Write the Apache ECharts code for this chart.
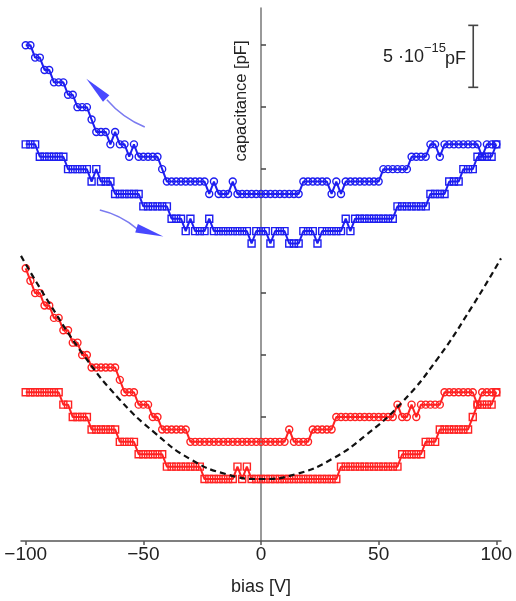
<!DOCTYPE html>
<html>
<head>
<meta charset="utf-8">
<script src="https://cdn.jsdelivr.net/npm/echarts@6/dist/echarts.min.js"></script>
<style>html,body{margin:0;background:#fff}#main{width:516px;height:601px}</style>
</head>
<body>
<div id="main"></div>
<script>
// bias sweep, volts
var bias = [-100,-98,-96,-94,-92,-90,-88,-86,-84,-82,-80,-78,-76,-74,-72,-70,-68,-66,-64,-62,
  -60,-58,-56,-54,-52,-50,-48,-46,-44,-42,-40,-38,-36,-34,-32,-30,-28,-26,-24,-22,
  -20,-18,-16,-14,-12,-10,-8,-6,-4,-2,0,2,4,6,8,10,12,14,16,18,
  20,22,24,26,28,30,32,34,36,38,40,42,44,46,48,50,52,54,56,58,
  60,62,64,66,68,70,72,74,76,78,80,82,84,86,88,90,92,94,96,98,100];

// capacitance, in 10^-15 pF steps
var blueCircles = [40,40,39,39,38,38,37,37,37,36,36,35,35,35,34,33,33,33,
  32,33,32,32,31,32,31,31,31,31,31,30,
  29,29,29,29,29,29,29,29,29,
  28,29,28,28,28,29,
  28,28,28,28,28,28,28,28,28,28,28,28,28,28,
  29,29,29,29,29,29,28,29,28,
  29,29,29,29,29,29,29,29,
  30,30,30,30,30,30,31,31,31,31,32,32,31,
  32,32,32,32,32,32,32,32,31,32,32,32];
var blueSquares = [32,32,32,31,31,31,31,31,31,30,30,30,30,30,29,30,29,29,29,
  28,28,28,28,28,28,27,27,27,27,27,27,26,26,26,25,26,25,25,25,26,
  25,25,25,25,25,25,25,25,24,25,25,25,24,25,25,25,24,24,24,25,25,25,24,
  25,25,25,25,25,26,25,26,26,26,26,26,26,26,26,26,
  27,27,27,27,27,27,27,28,28,28,28,29,29,29,30,30,30,31,31,31,31,32];
var redCircles = [22,21,20,20,19,19,18,18,17,17,16,16,15,15,
  14,14,14,14,14,14,13,12,12,12,11,11,11,10,10,9,9,9,9,9,9,
  8,8,8,8,8,8,8,8,8,8,8,8,8,8,8,8,8,8,8,8,8,
  9,8,8,8,8,9,9,9,9,9,
  10,10,10,10,10,10,10,10,10,10,10,10,10,
  11,10,10,11,10,11,11,11,11,11,
  12,12,12,12,12,12,12,11,12,12,12,12];
var redSquares = [12,12,12,12,12,12,12,12,11,11,10,10,10,10,9,9,9,9,9,9,
  8,8,8,8,7,7,7,7,7,7,6,6,6,6,6,6,6,6,5,5,5,5,5,5,5,6,5,6,
  5,5,5,5,5,5,5,5,5,5,5,5,5,5,5,5,5,5,5,
  6,6,6,6,6,6,6,6,6,6,6,6,6,7,7,7,7,7,8,8,8,
  9,9,9,9,9,9,9,10,11,11,11,11,12];

// dashed parabola
var fitBias = [-102,-90,-75,-60,-45,-30,-15,0,15,30,45,60,75,90,102];
var fitCap = [23.0,19.2,14.9,11.4,8.7,6.6,5.4,5.0,5.4,6.6,8.6,11.2,14.7,19.0,22.8];

// sweep arrows (shaft tail -> shaft end, head centre)
var arrowUpShaft = [[-49.4,33.4],[-65.5,35.6]];
var arrowUpHead = [-70.0,36.5];
var arrowDownShaft = [[-68.5,26.7],[-52.8,25.2]];
var arrowDownHead = [-47.2,24.9];

// 5 x 10^-15 pF scale bar
var scaleBarBias = [90.2,90.2];
var scaleBarCap = [36.6,41.6];

var xTicks = [-100,-50,0,50,100];
var yTicks = [5,10,15,20,25,30,35,40];

var font = '"Liberation Sans", Arial, sans-serif';
var blue = '#1e1ef0';
var red = '#ff2222';

function pairs(xs, ys) {
    return xs.map(function (x, i) { return [x, ys[i]]; });
}

function stepSeries(name, ys, color, symbol) {
    return {
        name: name,
        type: 'line',
        data: pairs(bias, ys),
        symbol: symbol,
        symbolSize: 7,
        lineStyle: { color: color, width: 2 },
        itemStyle: { color: 'rgba(255,255,255,0)', borderColor: color, borderWidth: 1.4 },
        z: 3
    };
}

var arrowPath = 'path://M5,0 L10,30 L0,30 Z';

var myChart = echarts.init(document.getElementById('main'));
var option = {
    animation: false,
    backgroundColor: '#fff',
    grid: { left: 21, right: 15, top: 8, bottom: 56 },
    xAxis: {
        type: 'value',
        min: -102,
        max: 102,
        splitLine: { show: false },
        axisLine: { lineStyle: { color: '#555', width: 1.5 } },
        axisTick: { customValues: xTicks, length: 4, lineStyle: { color: '#555', width: 1.5 } },
        axisLabel: {
            customValues: xTicks,
            color: '#222',
            fontSize: 19,
            fontFamily: font,
            margin: 4,
            formatter: function (v) { return String(v).replace('-', '\u2212'); }
        },
        name: 'bias [V]',
        nameLocation: 'middle',
        nameGap: 37,
        nameTextStyle: { color: '#222', fontSize: 18, fontFamily: font }
    },
    yAxis: {
        type: 'value',
        min: 0,
        max: 43,
        splitLine: { show: false },
        axisLine: { onZero: true, lineStyle: { color: '#777', width: 1.5 } },
        axisTick: { customValues: yTicks, inside: true, length: 5, lineStyle: { color: '#444', width: 1.5 } },
        axisLabel: { show: false }
    },
    graphic: [
        {
            type: 'text', x: 241, y: 101, rotation: Math.PI / 2,
            style: { text: 'capacitance [pF]', fill: '#222', fontSize: 16.5, fontFamily: font, align: 'center', verticalAlign: 'middle' }
        },
        {
            type: 'text', x: 424, y: 57,
            style: { text: '5 \u00b710', fill: '#222', fontSize: 18, fontFamily: font, align: 'right', verticalAlign: 'middle' }
        },
        {
            type: 'text', x: 424, y: 48,
            style: { text: '\u221215', fill: '#222', fontSize: 13, fontFamily: font, align: 'left', verticalAlign: 'middle' }
        },
        {
            type: 'text', x: 445, y: 59,
            style: { text: 'pF', fill: '#222', fontSize: 18, fontFamily: font, align: 'left', verticalAlign: 'middle' }
        }
    ],
    series: [
        stepSeries('blue up', blueCircles, blue, 'circle'),
        stepSeries('blue down', blueSquares, blue, 'rect'),
        stepSeries('red up', redCircles, red, 'circle'),
        stepSeries('red down', redSquares, red, 'rect'),
        {
            name: 'fit',
            type: 'line',
            data: pairs(fitBias, fitCap),
            smooth: true,
            symbol: 'none',
            lineStyle: { color: '#111', width: 2.2, type: [6, 4] },
            z: 5
        },
        {
            name: 'arrows',
            type: 'lines',
            coordinateSystem: 'cartesian2d',
            data: [{ coords: arrowUpShaft }, { coords: arrowDownShaft }],
            symbol: 'none',
            lineStyle: { color: '#7b7bf0', width: 1.5, curveness: 0.12, opacity: 1 },
            z: 4
        },
        {
            name: 'arrow heads',
            type: 'scatter',
            data: [
                { value: arrowUpHead, symbolRotate: 45 },
                { value: arrowDownHead, symbolRotate: -107 }
            ],
            symbol: arrowPath,
            symbolSize: [9, 28],
            itemStyle: { color: '#1a1aff' },
            z: 4
        },
        {
            name: 'scale bar',
            type: 'line',
            data: pairs(scaleBarBias, scaleBarCap),
            symbol: 'rect',
            symbolSize: [10, 1.6],
            lineStyle: { color: '#444', width: 1.6 },
            itemStyle: { color: '#444' }
        }
    ]
};

myChart.setOption(option);
</script>
</body>
</html>
